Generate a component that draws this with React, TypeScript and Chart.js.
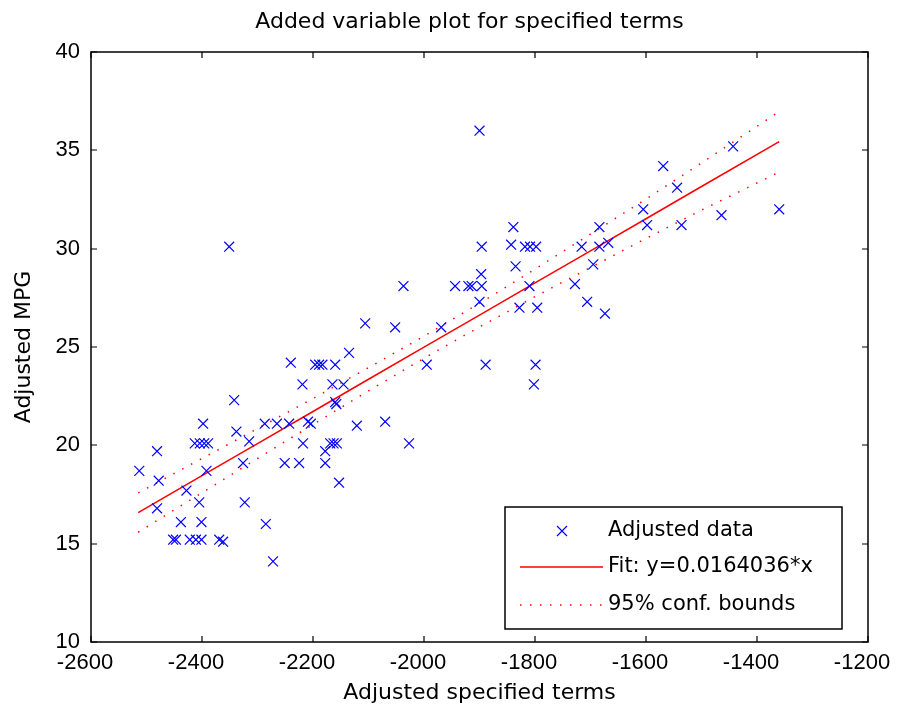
import React, { useEffect, useRef } from 'react';
import { Chart, registerables } from 'chart.js';

Chart.register(...registerables);

// ---- data ----
const dataX = [
  -2351, -2037, -1944, -1920, -1914, -1896, -2106, -2052, -1969, -2135,
  -2240, -2196, -2189, -2183, -2160, -1995, -2219, -2165, -2145, -2160,
  -2158, -2342, -2398, -2287, -2265, -2243, -2209, -2204, -2121, -2070,
  -2338, -2315, -2413, -2404, -2396, -2389, -2218, -2169, -2163, -2157,
  -2027, -2481, -2178, -2513, -2392, -2326, -2251, -2225, -2178, -2478,
  -2153, -2428, -2405, -2323, -2481, -2438, -2401, -2285, -2452, -2447,
  -2422, -2411, -2401, -2369, -2362, -2272, -1900, -1897, -1900, -1896,
  -1839, -1843, -1818, -1809, -1798, -1835, -1810, -1828, -1796, -1684,
  -1716, -1684, -1668, -1695, -1728, -1706, -1674, -1605, -1598, -1536,
  -1569, -1544, -1443, -1464, -1360, -1889, -1799, -1802,
];
const dataY = [
  30.1, 28.1, 28.1, 28.1, 28.1, 28.1, 26.2, 26.0, 26.0, 24.7,
  24.2, 24.1, 24.1, 24.1, 24.1, 24.1, 23.1, 23.1, 23.1, 22.2,
  22.1, 22.3, 21.1, 21.1, 21.1, 21.1, 21.2, 21.1, 21.0, 21.2,
  20.7, 20.2, 20.1, 20.1, 20.1, 20.1, 20.1, 20.1, 20.1, 20.1,
  20.1, 19.7, 19.7, 18.7, 18.7, 19.1, 19.1, 19.1, 19.1, 18.2,
  18.1, 17.7, 17.1, 17.1, 16.8, 16.1, 16.1, 16.0, 15.2, 15.2,
  15.2, 15.2, 15.2, 15.2, 15.1, 14.1, 36.0, 28.7, 27.3, 30.1,
  31.1, 30.2, 30.1, 30.1, 30.1, 29.1, 28.1, 27.0, 27.0, 31.1,
  30.1, 30.1, 30.3, 29.2, 28.2, 27.3, 26.7, 32.0, 31.2, 31.2,
  34.2, 33.1, 35.2, 31.7, 32.0, 24.1, 24.1, 23.1,
];

const fitX = [-2515, -2400, -2300, -2200, -2100, -2000, -1900, -1800, -1700, -1600, -1500, -1360];
const fitY = [16.58, 18.46, 20.09, 21.72, 23.36, 24.99, 26.62, 28.26, 29.89, 31.52, 33.16, 35.44];
const upperY = [17.58, 19.33, 20.85, 22.38, 23.95, 25.55, 27.22, 28.96, 30.74, 32.52, 34.36, 36.97];
const lowerY = [15.58, 17.59, 19.33, 21.06, 22.77, 24.43, 26.02, 27.56, 29.04, 30.52, 31.96, 33.89];

const titleText = 'Added variable plot for specified terms';
const xLabel = 'Adjusted specified terms';
const yLabel = 'Adjusted MPG';
const legendLabels = ['Adjusted data', 'Fit: y=0.0164036*x', '95% conf. bounds'];

const X_MIN = -2600;
const X_MAX = -1200;
const X_STEP = 200;
const Y_MIN = 10;
const Y_MAX = 40;
const Y_STEP = 5;

const BLUE = '#0000ff';
const RED = '#ff0000';
const TEXT_FONT = '"DejaVu Sans", sans-serif';
const TICK_FONT = '"Liberation Sans", Arial, sans-serif';

const framePlugin = {
  id: 'matlabFrame',
  afterDatasetsDraw(chart: any) {
    const { ctx, chartArea } = chart;
    const { left, right, top, bottom } = chartArea;
    const xs = chart.scales.x;
    const ys = chart.scales.y;
    ctx.save();
    ctx.strokeStyle = '#000';
    ctx.lineWidth = 1.5;
    ctx.strokeRect(left, top, right - left, bottom - top);
    ctx.lineWidth = 1.2;
    const tl = 6;
    ctx.beginPath();
    xs.ticks.forEach((t: any) => {
      const px = Math.round(xs.getPixelForValue(t.value));
      ctx.moveTo(px, bottom);
      ctx.lineTo(px, bottom - tl);
      ctx.moveTo(px, top);
      ctx.lineTo(px, top + tl);
    });
    ys.ticks.forEach((t: any) => {
      const py = Math.round(ys.getPixelForValue(t.value));
      ctx.moveTo(left, py);
      ctx.lineTo(left + tl, py);
      ctx.moveTo(right, py);
      ctx.lineTo(right - tl, py);
    });
    ctx.stroke();

    // legend box (inside, bottom-right)
    const w = 337;
    const h = 122;
    const bx = right - 26 - w;
    const by = bottom - 13 - h;
    ctx.fillStyle = '#fff';
    ctx.fillRect(bx, by, w, h);
    ctx.strokeStyle = '#000';
    ctx.lineWidth = 1.5;
    ctx.strokeRect(bx, by, w, h);

    const rows = [by + 24, by + 60, by + 98];
    const lx0 = bx + 15;
    const lx1 = bx + 98;
    // marker
    ctx.strokeStyle = BLUE;
    ctx.lineWidth = 1.2;
    const mx = bx + 57;
    const r = 5;
    ctx.beginPath();
    ctx.moveTo(mx - r, rows[0] - r);
    ctx.lineTo(mx + r, rows[0] + r);
    ctx.moveTo(mx - r, rows[0] + r);
    ctx.lineTo(mx + r, rows[0] - r);
    ctx.stroke();
    // solid line
    ctx.strokeStyle = RED;
    ctx.lineWidth = 1.5;
    ctx.beginPath();
    ctx.moveTo(lx0, rows[1]);
    ctx.lineTo(lx1, rows[1]);
    ctx.stroke();
    // dotted line
    ctx.setLineDash([1.5, 8.5]);
    ctx.beginPath();
    ctx.moveTo(lx0, rows[2]);
    ctx.lineTo(lx1, rows[2]);
    ctx.stroke();
    ctx.setLineDash([]);

    ctx.fillStyle = '#000';
    ctx.font = `21px ${TEXT_FONT}`;
    ctx.textAlign = 'left';
    ctx.textBaseline = 'middle';
    legendLabels.forEach((s, i) => ctx.fillText(s, bx + 103, rows[i]));

    // title
    ctx.font = `22px ${TEXT_FONT}`;
    ctx.textAlign = 'center';
    ctx.fillText(titleText, (left + right) / 2 - 10, 22);
    ctx.restore();
  },
};

export default function App() {
  const canvasRef = useRef<HTMLCanvasElement | null>(null);

  useEffect(() => {
    document.body.style.margin = '0';
    const canvas = canvasRef.current;
    if (!canvas) return;
    const points = dataX.map((x, i) => ({ x, y: dataY[i] }));
    const fit = fitX.map((x, i) => ({ x, y: fitY[i] }));
    const up = fitX.map((x, i) => ({ x, y: upperY[i] }));
    const lo = fitX.map((x, i) => ({ x, y: lowerY[i] }));

    const chart = new Chart(canvas, {
      type: 'scatter',
      data: {
        datasets: [
          {
            label: legendLabels[0],
            data: points,
            pointStyle: 'crossRot',
            pointRadius: 7,
            pointBorderWidth: 1.2,
            borderColor: BLUE,
            backgroundColor: BLUE,
            showLine: false,
          },
          {
            label: legendLabels[1],
            data: fit,
            showLine: true,
            pointRadius: 0,
            borderColor: RED,
            borderWidth: 1.5,
          },
          {
            label: legendLabels[2],
            data: up,
            showLine: true,
            pointRadius: 0,
            borderColor: RED,
            borderWidth: 1.5,
            borderDash: [1.5, 8.5],
          },
          {
            label: legendLabels[2] + ' (lower)',
            data: lo,
            showLine: true,
            pointRadius: 0,
            borderColor: RED,
            borderWidth: 1.5,
            borderDash: [1.5, 8.5],
          },
        ],
      },
      options: {
        responsive: false,
        animation: false,
        devicePixelRatio: 1,
        layout: { padding: { top: 52, right: 41, left: 0, bottom: 0 } },
        plugins: {
          legend: { display: false },
          tooltip: { enabled: false },
          title: { display: false },
        },
        scales: {
          x: {
            type: 'linear',
            position: 'bottom',
            min: X_MIN,
            max: X_MAX,
            grid: { display: false, drawTicks: false },
            border: { display: false },
            ticks: {
              stepSize: X_STEP,
              padding: 8,
              labelOffset: -6,
              maxRotation: 0,
              autoSkip: false,
              color: '#000',
              font: { family: TICK_FONT, size: 22 },
              callback: (v: any) => String(v),
            },
            title: {
              display: true,
              text: xLabel,
              color: '#000',
              font: { family: TEXT_FONT, size: 22 },
              padding: { top: 0, bottom: 8 },
            },
            afterFit: (s: any) => {
              s.height = 72;
            },
          },
          y: {
            type: 'linear',
            min: Y_MIN,
            max: Y_MAX,
            grid: { display: false, drawTicks: false },
            border: { display: false },
            ticks: {
              stepSize: Y_STEP,
              padding: 11,
              color: '#000',
              font: { family: TICK_FONT, size: 22 },
              callback: (v: any) => String(v),
            },
            title: {
              display: true,
              text: yLabel,
              color: '#000',
              font: { family: TEXT_FONT, size: 22 },
              padding: { top: 11, bottom: 0 },
            },
            afterFit: (s: any) => {
              s.width = 91;
            },
          },
        },
      },
      plugins: [framePlugin],
    });
    return () => chart.destroy();
  }, []);

  return (
    <div style={{ width: 909, height: 714, background: '#fff' }}>
      <canvas ref={canvasRef} width={909} height={714} style={{ display: 'block' }} />
    </div>
  );
}
